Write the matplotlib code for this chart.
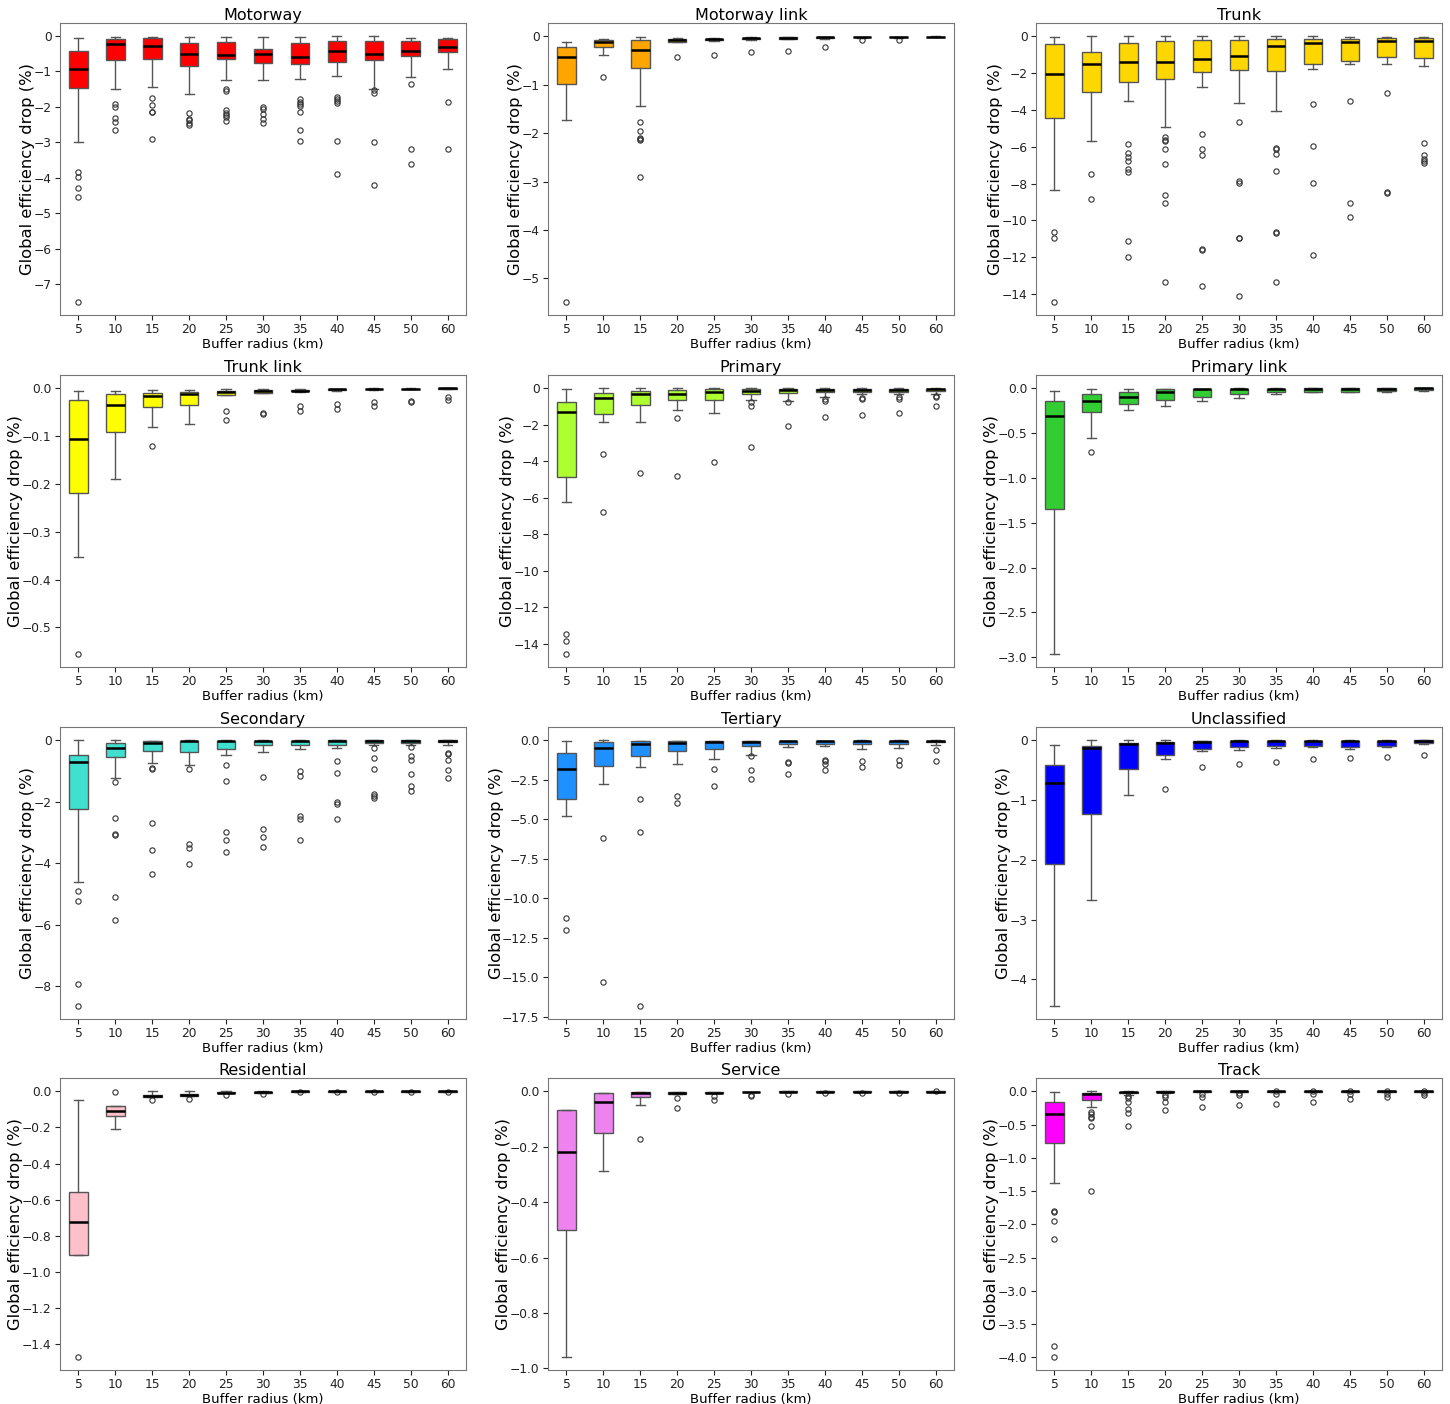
"""
Global efficiency drop per road class vs buffer radius, 4x3 boxplot grid.
Box statistics are precomputed, so boxes are drawn with Axes.bxp.
"""

import matplotlib
matplotlib.use("Agg")
import matplotlib.pyplot as plt

RADII = [5, 10, 15, 20, 25, 30, 35, 40, 45, 50, 60]

# --- per-class box statistics (%, one entry per buffer radius) ---

MOTORWAY = dict(
    whishi=[-0.07, -0.04, -0.02, -0.03, -0.02, -0.03, -0.03, -0.01, -0.01, -0.05, -0.05],
    q3=[-0.43, -0.09, -0.07, -0.20, -0.17, -0.36, -0.21, -0.13, -0.13, -0.13, -0.10],
    med=[-0.93, -0.24, -0.28, -0.51, -0.54, -0.51, -0.58, -0.42, -0.51, -0.42, -0.32],
    q1=[-1.48, -0.69, -0.66, -0.85, -0.66, -0.76, -0.79, -0.74, -0.68, -0.57, -0.46],
    whislo=[-3.0, -1.5, -1.45, -1.65, -1.25, -1.25, -1.21, -1.14, -1.5, -1.17, -0.94],
    fliers=[[-3.83, -3.97, -4.29, -4.53, -7.49],
            [-1.92, -2.01, -2.3, -2.43, -2.64],
            [-1.76, -1.95, -2.13, -2.15, -2.91],
            [-2.18, -2.33, -2.38, -2.46, -2.52],
            [-1.5, -1.56, -2.1, -2.17, -2.22, -2.29, -2.39],
            [-2.0, -2.07, -2.21, -2.34, -2.46],
            [-1.79, -1.85, -1.91, -1.98, -2.14, -2.64, -2.95],
            [-1.71, -1.77, -1.83, -1.89, -2.97, -3.88],
            [-1.52, -1.6, -2.99, -4.2],
            [-1.35, -3.18, -3.61],
            [-1.85, -3.18]],
)

MOTORWAY_LINK = dict(
    whishi=[-0.11, -0.05, -0.01, -0.03, -0.03, -0.02, -0.015, -0.01, -0.005, -0.005, 0.0],
    q3=[-0.22, -0.08, -0.08, -0.05, -0.05, -0.03, -0.02, -0.02, -0.01, -0.01, -0.005],
    med=[-0.42, -0.12, -0.28, -0.075, -0.06, -0.04, -0.03, -0.025, -0.015, -0.015, -0.01],
    q1=[-0.99, -0.23, -0.66, -0.11, -0.08, -0.06, -0.05, -0.04, -0.025, -0.025, -0.015],
    whislo=[-1.73, -0.38, -1.44, -0.12, -0.10, -0.075, -0.06, -0.05, -0.035, -0.035, -0.02],
    fliers=[[-5.48], [-0.84], [-1.76, -1.95, -2.1, -2.12, -2.14, -2.9],
            [-0.43], [-0.38], [-0.33], [-0.3], [-0.23], [-0.07], [-0.07], []],
)

TRUNK = dict(
    whishi=[-0.04, 0.0, 0.0, 0.0, 0.0, 0.0, 0.0, 0.0, -0.04, -0.04, -0.04],
    q3=[-0.41, -0.85, -0.36, -0.23, -0.20, -0.18, -0.14, -0.14, -0.14, -0.11, -0.11],
    med=[-2.05, -1.48, -1.41, -1.41, -1.21, -1.05, -0.54, -0.36, -0.31, -0.27, -0.23],
    q1=[-4.43, -3.05, -2.5, -2.31, -1.93, -1.84, -1.86, -1.48, -1.33, -1.10, -1.17],
    whislo=[-8.36, -5.68, -3.53, -4.94, -2.74, -3.64, -4.07, -1.75, -1.48, -1.48, -1.64],
    fliers=[[-10.61, -10.95, -14.41],
            [-7.48, -8.85],
            [-5.87, -6.34, -6.56, -6.76, -7.19, -7.35, -11.12, -11.98],
            [-5.46, -5.64, -5.71, -6.11, -6.95, -8.61, -9.06, -13.35],
            [-5.33, -6.11, -6.45, -11.55, -11.59, -13.57],
            [-4.67, -7.87, -7.96, -10.94, -10.97, -14.09],
            [-6.04, -6.11, -6.41, -7.3, -10.63, -10.67, -13.32],
            [-3.66, -5.93, -7.98, -11.87],
            [-3.5, -9.03, -9.82],
            [-3.1, -8.45, -8.49],
            [-5.82, -6.45, -6.65, -6.76, -6.88]],
)

TRUNK_LINK = dict(
    whishi=[-0.0056, -0.0056, -0.004, -0.0035, -0.0014, -0.0007, -0.0014, -0.0007, -0.0003, 0.0, 0.0],
    q3=[-0.024, -0.011, -0.009, -0.0076, -0.005, -0.0035, -0.003, -0.0014, -0.001, -0.0005, 0.0],
    med=[-0.106, -0.035, -0.016, -0.012, -0.0076, -0.006, -0.005, -0.002, -0.0014, -0.0007, -0.0003],
    q1=[-0.219, -0.092, -0.040, -0.035, -0.0146, -0.009, -0.006, -0.0035, -0.002, -0.001, -0.0005],
    whislo=[-0.353, -0.19, -0.081, -0.074, -0.015, -0.0104, -0.007, -0.005, -0.003, -0.0014, -0.0007],
    fliers=[[-0.555], [], [-0.121], [], [-0.048, -0.067], [-0.051, -0.053],
            [-0.037, -0.047], [-0.033, -0.044], [-0.028, -0.037],
            [-0.026, -0.029], [-0.019, -0.024]],
)

PRIMARY = dict(
    whishi=[-0.04, -0.02, -0.02, -0.02, -0.02, -0.01, -0.01, -0.01, -0.01, -0.01, -0.01],
    q3=[-0.78, -0.27, -0.16, -0.11, -0.07, -0.05, -0.05, -0.05, -0.05, -0.05, -0.04],
    med=[-1.33, -0.55, -0.33, -0.31, -0.20, -0.16, -0.13, -0.13, -0.11, -0.11, -0.07],
    q1=[-4.89, -1.44, -0.95, -0.65, -0.64, -0.33, -0.29, -0.24, -0.22, -0.22, -0.18],
    whislo=[-6.24, -1.85, -1.87, -1.2, -1.38, -0.65, -0.69, -0.51, -0.35, -0.31, -0.33],
    fliers=[[-13.49, -13.85, -14.55], [-3.62, -6.76], [-4.64], [-1.62, -4.82],
            [-4.05], [-0.78, -0.96, -3.25], [-0.75, -2.09],
            [-0.6, -0.69, -1.56], [-0.55, -0.6, -1.45], [-0.49, -0.62, -1.36],
            [-0.42, -0.49, -0.98]],
)

PRIMARY_LINK = dict(
    whishi=[-0.026, -0.011, -0.011, -0.007, -0.004, -0.003, -0.002, -0.001, -0.001, -0.001, -0.001],
    q3=[-0.148, -0.067, -0.048, -0.011, -0.007, -0.004, -0.004, -0.002, -0.002, -0.002, -0.001],
    med=[-0.307, -0.144, -0.096, -0.041, -0.011, -0.007, -0.007, -0.005, -0.004, -0.004, -0.003],
    q1=[-1.344, -0.267, -0.174, -0.13, -0.10, -0.063, -0.044, -0.04, -0.037, -0.033, -0.022],
    whislo=[-2.96, -0.556, -0.248, -0.204, -0.144, -0.104, -0.063, -0.048, -0.044, -0.04, -0.03],
    fliers=[[], [-0.711], [], [], [], [], [], [], [], [], []],
)

SECONDARY = dict(
    whishi=[0.0, 0.0, -0.01, 0.0, 0.0, 0.0, 0.0, 0.0, 0.0, 0.0, 0.0],
    q3=[-0.49, -0.09, -0.03, -0.01, -0.01, -0.01, -0.01, -0.005, -0.005, -0.005, -0.005],
    med=[-0.71, -0.26, -0.09, -0.03, -0.02, -0.02, -0.02, -0.01, -0.01, -0.01, -0.01],
    q1=[-2.23, -0.55, -0.35, -0.37, -0.27, -0.16, -0.15, -0.14, -0.10, -0.08, -0.05],
    whislo=[-4.62, -1.22, -0.75, -0.8, -0.48, -0.38, -0.29, -0.25, -0.16, -0.14, -0.15],
    fliers=[[-4.9, -5.22, -7.92, -8.64],
            [-1.35, -2.54, -3.05, -3.07, -5.1, -5.84],
            [-0.89, -0.92, -2.68, -3.56, -4.35],
            [-0.94, -3.39, -3.52, -4.02],
            [-0.82, -1.32, -2.99, -3.24, -3.64],
            [-1.18, -2.88, -3.16, -3.49],
            [-1.0, -1.15, -2.48, -2.57, -3.23],
            [-0.69, -1.06, -2.0, -2.08, -2.55],
            [-0.26, -0.58, -0.93, -1.75, -1.82, -1.87],
            [-0.22, -0.52, -0.64, -1.09, -1.48, -1.65],
            [-0.42, -0.44, -0.65, -0.98, -1.24]],
)

TERTIARY = dict(
    whishi=[-0.04, 0.0, -0.02, -0.02, -0.02, -0.02, -0.02, -0.02, -0.01, -0.01, -0.01],
    q3=[-0.8, -0.13, -0.06, -0.04, -0.04, -0.02, -0.02, -0.02, -0.02, -0.02, -0.02],
    med=[-1.81, -0.48, -0.21, -0.15, -0.10, -0.08, -0.06, -0.06, -0.06, -0.06, -0.05],
    q1=[-3.72, -1.64, -1.01, -0.67, -0.55, -0.36, -0.25, -0.21, -0.23, -0.21, -0.13],
    whislo=[-4.81, -2.77, -1.66, -1.53, -1.16, -0.9, -0.42, -0.36, -0.53, -0.46, -0.27],
    fliers=[[-11.22, -12.0], [-6.16, -15.29], [-3.74, -5.82, -16.79],
            [-3.55, -3.99], [-1.83, -2.9], [-0.97, -1.89, -2.46],
            [-1.37, -1.43, -2.16], [-1.26, -1.34, -1.53, -1.91],
            [-1.34, -1.68], [-1.24, -1.58], [-0.61, -1.3]],
)

UNCLASSIFIED = dict(
    whishi=[-0.08, 0.0, 0.0, 0.0, -0.01, 0.0, 0.0, 0.0, 0.0, 0.0, 0.0],
    q3=[-0.42, -0.10, -0.05, -0.03, -0.02, -0.005, -0.005, -0.005, -0.005, -0.005, 0.0],
    med=[-0.72, -0.13, -0.07, -0.04, -0.03, -0.01, -0.005, -0.005, -0.005, -0.005, -0.005],
    q1=[-2.07, -1.23, -0.48, -0.25, -0.14, -0.12, -0.10, -0.09, -0.11, -0.09, -0.05],
    whislo=[-4.44, -2.67, -0.92, -0.32, -0.18, -0.16, -0.13, -0.12, -0.14, -0.12, -0.06],
    fliers=[[], [], [], [-0.81], [-0.44], [-0.39], [-0.36], [-0.32],
            [-0.29], [-0.28], [-0.24]],
)

RESIDENTIAL = dict(
    whishi=[-0.05, -0.083, 0.0, 0.0, 0.0, 0.0, 0.0, 0.0, 0.0, 0.0, 0.0],
    q3=[-0.556, -0.083, -0.02, -0.017, -0.004, -0.003, 0.0, 0.0, 0.0, 0.0, 0.0],
    med=[-0.721, -0.108, -0.026, -0.02, -0.007, -0.005, -0.001, -0.001, -0.001, -0.001, -0.001],
    q1=[-0.908, -0.134, -0.031, -0.024, -0.009, -0.007, -0.002, -0.002, -0.002, -0.002, -0.002],
    whislo=[-0.908, -0.207, -0.031, -0.024, -0.009, -0.007, -0.002, -0.002, -0.002, -0.002, -0.002],
    fliers=[[-1.468], [-0.002], [-0.05], [-0.042], [-0.018], [-0.013],
            [-0.002], [-0.002], [-0.002], [-0.002], [-0.002]],
)

SERVICE = dict(
    whishi=[-0.068, -0.007, -0.004, -0.002, -0.002, -0.001, 0.0, 0.0, 0.0, 0.0, 0.0],
    q3=[-0.068, -0.007, -0.004, -0.002, -0.002, -0.001, 0.0, 0.0, 0.0, 0.0, 0.0],
    med=[-0.22, -0.04, -0.006, -0.005, -0.005, -0.002, -0.001, -0.001, -0.001, -0.001, -0.001],
    q1=[-0.50, -0.151, -0.022, -0.01, -0.007, -0.004, -0.002, -0.002, -0.002, -0.002, -0.002],
    whislo=[-0.958, -0.287, -0.048, -0.01, -0.007, -0.004, -0.002, -0.002, -0.002, -0.002, -0.002],
    fliers=[[], [], [-0.171], [-0.023, -0.061], [-0.017, -0.03], [-0.012, -0.017],
            [-0.01], [-0.007], [-0.007], [-0.005], [0.0]],
)

TRACK = dict(
    whishi=[-0.005, 0.0, 0.0, 0.0, 0.0, 0.0, 0.0, 0.0, 0.0, 0.0, 0.0],
    q3=[-0.165, -0.02, -0.005, 0.0, 0.0, 0.0, 0.0, 0.0, 0.0, 0.0, 0.0],
    med=[-0.34, -0.04, -0.015, -0.005, -0.002, -0.002, -0.002, -0.002, -0.002, -0.002, -0.002],
    q1=[-0.78, -0.125, -0.03, -0.015, -0.005, -0.005, -0.005, -0.005, -0.005, -0.005, -0.005],
    whislo=[-1.38, -0.23, -0.055, -0.02, -0.008, -0.008, -0.008, -0.008, -0.008, -0.008, -0.008],
    fliers=[[-1.805, -1.815, -1.95, -2.215, -3.835, -3.99],
            [-0.315, -0.335, -0.38, -0.405, -0.52, -1.505],
            [-0.075, -0.1, -0.155, -0.265, -0.33, -0.525],
            [-0.05, -0.085, -0.16, -0.28],
            [-0.035, -0.085, -0.24],
            [-0.02, -0.055, -0.21],
            [0.0, -0.045, -0.185],
            [0.0, -0.035, -0.155],
            [0.0, -0.04, -0.11],
            [0.0, -0.045, -0.08],
            [0.0, -0.025, -0.055]],
)

TITLES = ["Motorway", "Motorway link", "Trunk",
          "Trunk link", "Primary", "Primary link",
          "Secondary", "Tertiary", "Unclassified",
          "Residential", "Service", "Track"]
PANELS = [MOTORWAY, MOTORWAY_LINK, TRUNK,
          TRUNK_LINK, PRIMARY, PRIMARY_LINK,
          SECONDARY, TERTIARY, UNCLASSIFIED,
          RESIDENTIAL, SERVICE, TRACK]
COLORS = ["red", "orange", "gold",
          "yellow", "greenyellow", "limegreen",
          "turquoise", "dodgerblue", "blue",
          "pink", "violet", "magenta"]

# --- layout (pixels in a 1450x1404 canvas) ---
W, H = 1450, 1404
COL_LEFT = [60, 548, 1036]
ROW_TOP = [23, 375, 727, 1078]
AX_W, AX_H = 406, 292

GREY = "#555555"


def box_stats(panel):
    keys = ["whishi", "q3", "med", "q1", "whislo", "fliers"]
    return [dict(zip(keys, vals)) for vals in zip(*(panel[k] for k in keys))]


fig = plt.figure(figsize=(W / 100, H / 100), dpi=100)

for i, (title, panel, color) in enumerate(zip(TITLES, PANELS, COLORS)):
    r, c = divmod(i, 3)
    left = COL_LEFT[c] / W
    bottom = 1 - (ROW_TOP[r] + AX_H) / H
    ax = fig.add_axes([left, bottom, AX_W / W, AX_H / H])

    ax.bxp(
        box_stats(panel),
        positions=range(1, len(RADII) + 1),
        widths=0.5,
        patch_artist=True,
        boxprops=dict(facecolor=color, edgecolor=GREY, linewidth=1.0),
        whiskerprops=dict(color=GREY, linewidth=1.0),
        capprops=dict(color=GREY, linewidth=1.0),
        medianprops=dict(color="black", linewidth=1.8),
        flierprops=dict(marker="o", markersize=3.8, markerfacecolor="none",
                        markeredgecolor="#333333", markeredgewidth=0.8),
    )
    ax.set_xticks(range(1, len(RADII) + 1))
    ax.set_xticklabels([str(v) for v in RADII])
    ax.tick_params(labelsize=8.8, colors="#222222", pad=2.5)
    for s in ax.spines.values():
        s.set_color("#777777")
    ax.set_title(title, fontsize=11.5, pad=2)
    ax.set_xlabel("Buffer radius (km)", fontsize=9.5, labelpad=1)
    ax.set_ylabel("Global efficiency drop (%)", fontsize=11.8, labelpad=-1)

fig.savefig("out.png", dpi=100)
